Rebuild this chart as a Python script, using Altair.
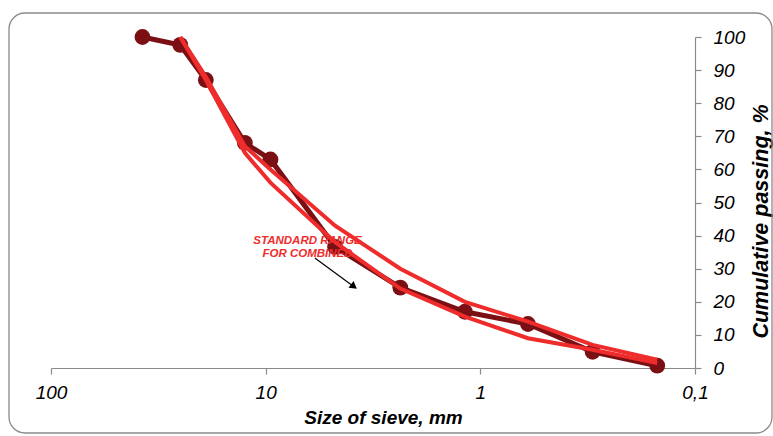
import altair as alt
import pandas as pd

# ---- data ----
sieve_sizes = [37.5, 25, 19, 12.5, 9.5, 4.75, 2.36, 1.18, 0.6, 0.3, 0.15]
passing = [100, 97.6, 87, 68, 63, 36.6, 24.3, 17, 13.3, 4.9, 0.7]

std_sizes = [25, 19, 12.5, 9.5, 4.75, 2.36, 1.18, 0.6, 0.3, 0.15]
upper_limit = [100, 88, 67, 60, 43, 30, 20, 14, 7, 2.5]
lower_limit = [100, 87, 65, 56, 38, 24, 15.5, 9, 5.5, 1.5]

x_ticks = [100, 10, 1, 0.1]
y_ticks = list(range(0, 101, 10))

annotation_lines = ["STANDARD RANGE", "FOR COMBINED"]
annotation_size = [6.38, 6.38]
annotation_pass = [38.4, 34.4]
arrow_start = [5.9, 33.2]
arrow_end = [3.92, 24.8]

# ---- tables ----
main_df = pd.DataFrame({"size": sieve_sizes, "pct": passing})
std_df = pd.concat([
    pd.DataFrame({"size": std_sizes, "pct": upper_limit, "limit": "upper"}),
    pd.DataFrame({"size": std_sizes, "pct": lower_limit, "limit": "lower"}),
])
text_df = pd.DataFrame({"size": annotation_size, "pct": annotation_pass, "label": annotation_lines})
arrow_df = pd.DataFrame({"size": [arrow_start[0]], "pct": [arrow_start[1]],
                         "size2": [arrow_end[0]], "pct2": [arrow_end[1]]})
head_df = pd.DataFrame({"size": [arrow_end[0]], "pct": [arrow_end[1]]})
frame_df = pd.DataFrame({"a": [0]})

FONT = "Liberation Sans"
GREY = "#8a8a8a"
DARK = "#7a1014"
RED = "#ee2c2c"

x_enc = alt.X(
    "size:Q",
    scale=alt.Scale(type="log", domain=[0.1, 100], reverse=True),
    title="Size of sieve, mm",
    axis=alt.Axis(
        values=x_ticks,
        labelExpr="replace(format(datum.value, '~g'), '.', ',')",
        labelFlush=False,
        labelOverlap=False,
        grid=False,
        tickSize=6,
        labelPadding=9,
        titleX=332,
        titleY=49,
        titleAlign="center",
        titleBaseline="middle",
    ),
)
y_enc = alt.Y(
    "pct:Q",
    scale=alt.Scale(domain=[0, 100]),
    title="Cumulative passing, %",
    axis=alt.Axis(
        orient="right",
        values=y_ticks,
        labelFlush=False,
        labelOverlap=False,
        grid=False,
        tickSize=6,
        labelPadding=12,
        labelAlign="left",
        titleAngle=270,
        titleX=66,
        titleY=184,
        titleAlign="center",
        titleBaseline="middle",
        titleFontSize=21.5,
    ),
)

frame = alt.Chart(frame_df).mark_rect(
    cornerRadius=16, fillOpacity=0, stroke=GREY, strokeWidth=1.3
).encode(
    x=alt.value(-42), x2=alt.value(721), y=alt.value(-24), y2=alt.value(396)
)

main_line = alt.Chart(main_df).mark_line(color=DARK, strokeWidth=5).encode(x=x_enc, y=y_enc)
main_pts = alt.Chart(main_df).mark_circle(color=DARK, size=250, opacity=1).encode(x=x_enc, y=y_enc)

std_lines = alt.Chart(std_df).mark_line(color=RED, strokeWidth=4).encode(
    x=x_enc, y=y_enc, detail="limit:N"
)

arrow = alt.Chart(arrow_df).mark_rule(color="black", strokeWidth=1.2).encode(
    x=x_enc, y=y_enc, x2="size2:Q", y2="pct2:Q"
)
head = alt.Chart(head_df).mark_point(
    shape="triangle", filled=True, color="black", size=70, angle=127, opacity=1
).encode(x=x_enc, y=y_enc)

texts = alt.Chart(text_df).mark_text(
    color=RED, font=FONT, fontSize=11.5, fontWeight="bold", fontStyle="italic",
    align="center", baseline="middle"
).encode(x=x_enc, y=y_enc, text="label:N")

chart = alt.layer(frame, main_line, main_pts, std_lines, arrow, head, texts).properties(
    width=644,
    height=331,
    autosize=alt.AutoSizeParams(type="none"),
    padding={"left": 51, "top": 37, "right": 78, "bottom": 68},
    background="white",
).configure_view(stroke=None).configure_axis(
    labelFont=FONT,
    labelFontStyle="italic",
    labelFontSize=19,
    labelColor="black",
    titleFont=FONT,
    titleFontSize=19,
    titleFontWeight="bold",
    titleFontStyle="italic",
    titleColor="black",
    domainColor=GREY,
    tickColor=GREY,
    domainWidth=1.2,
    tickWidth=1.2,
)

chart.save("out.html", embed_options={"renderer": "svg", "actions": False})
